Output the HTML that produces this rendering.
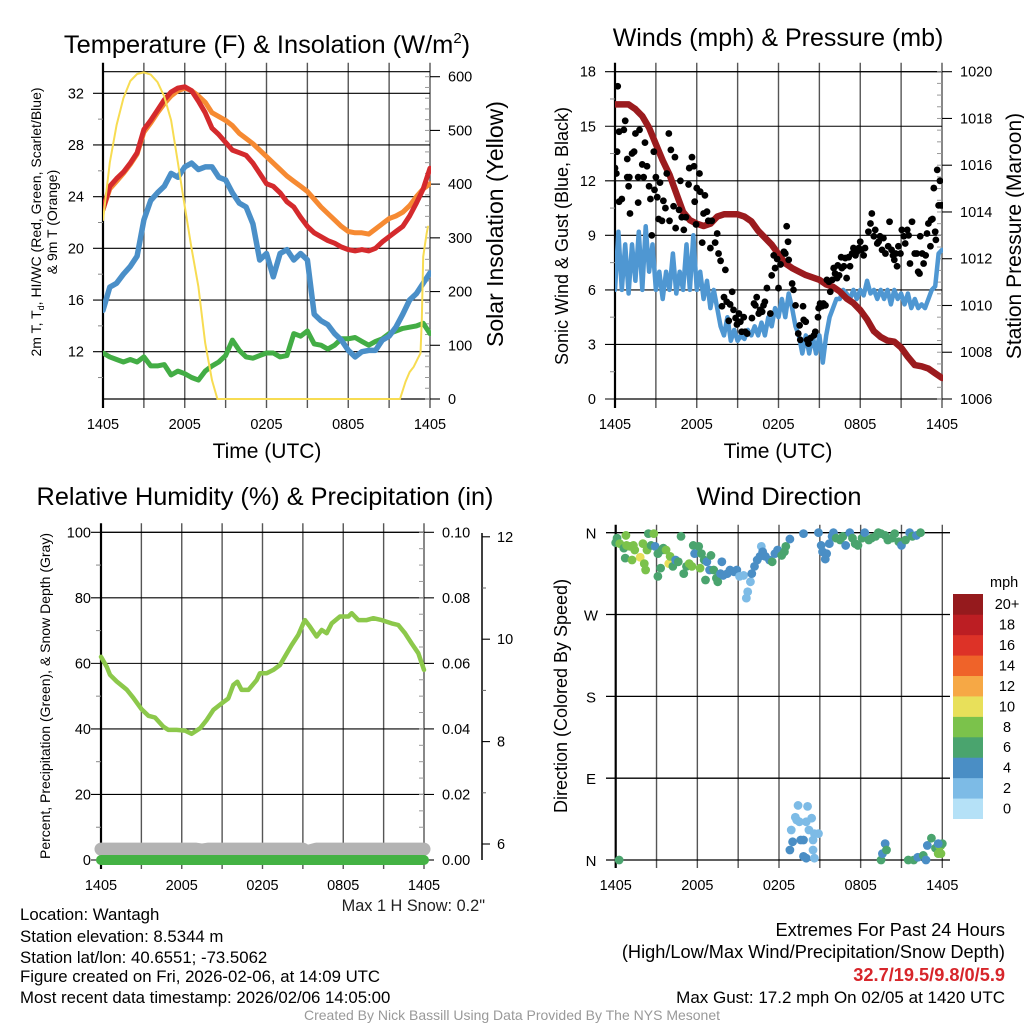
<!DOCTYPE html>
<html><head><meta charset="utf-8"><style>
html,body{margin:0;padding:0;background:#fff;}
svg{display:block;font-family:"Liberation Sans",sans-serif;}
</style></head><body>
<svg id="chart" width="1024" height="1024" viewBox="0 0 1024 1024" xmlns="http://www.w3.org/2000/svg">
<defs>
<clipPath id="c1"><rect x="103" y="60" width="328" height="340"/></clipPath>
<clipPath id="c2"><rect x="615" y="60" width="328" height="340"/></clipPath>
<clipPath id="c3"><rect x="90" y="525" width="345" height="345"/></clipPath>
<clipPath id="c4"><rect x="608" y="525" width="342" height="345"/></clipPath>
</defs>
<text x="267" y="53" font-size="25.4" text-anchor="middle">Temperature (F) &amp; Insolation (W/m<tspan dy="-10" font-size="15">2</tspan><tspan dy="10">)</tspan></text>
<text x="778" y="46" font-size="25" text-anchor="middle">Winds (mph) &amp; Pressure (mb)</text>
<text x="265" y="505" font-size="25.3" text-anchor="middle">Relative Humidity (%) &amp; Precipitation (in)</text>
<text x="779" y="505" font-size="25.4" text-anchor="middle">Wind Direction</text>

<text x="267" y="458" font-size="21" text-anchor="middle">Time (UTC)</text>
<text x="778" y="458" font-size="21" text-anchor="middle">Time (UTC)</text>
<text transform="translate(41,222) rotate(-90)" font-size="14" text-anchor="middle">2m T, T<tspan font-size="9" dy="3">d</tspan><tspan dy="-3">, HI/WC (Red, Green, Scarlet/Blue)</tspan></text>
<text transform="translate(57,222) rotate(-90)" font-size="14" text-anchor="middle">&amp; 9m T (Orange)</text>
<text transform="translate(503,224) rotate(-90)" font-size="23" text-anchor="middle">Solar Insolation (Yellow)</text>
<text transform="translate(568,236) rotate(-90)" font-size="18" text-anchor="middle">Sonic Wind &amp; Gust (Blue, Black)</text>
<text transform="translate(1021,236) rotate(-90)" font-size="21" text-anchor="middle">Station Pressure (Maroon)</text>
<text transform="translate(50,696) rotate(-90)" font-size="14" text-anchor="middle">Percent, Precipitation (Green), &amp; Snow Depth (Gray)</text>
<text transform="translate(567,696) rotate(-90)" font-size="18" text-anchor="middle">Direction (Colored By Speed)</text>

<text x="485" y="911" font-size="16.3" text-anchor="end" fill="#222">Max 1 H Snow: 0.2"</text>
<g font-size="16.8" fill="#000">
<text x="20" y="920">Location: Wantagh</text>
<text x="20" y="942">Station elevation: 8.5344 m</text>
<text x="20" y="963">Station lat/lon: 40.6551; -73.5062</text>
<text x="20" y="982">Figure created on Fri, 2026-02-06, at 14:09 UTC</text>
<text x="20" y="1003">Most recent data timestamp: 2026/02/06 14:05:00</text>
</g>
<g text-anchor="end">
<text x="1005" y="936" font-size="18.2">Extremes For Past 24 Hours</text>
<text x="1005" y="958" font-size="18.2">(High/Low/Max Wind/Precipitation/Snow Depth)</text>
<text x="1005" y="981" font-size="18.2" fill="#d7262b" font-weight="bold">32.7/19.5/9.8/0/5.9</text>
<text x="1005" y="1003" font-size="17">Max Gust: 17.2 mph On 02/05 at 1420 UTC</text>
</g>
<text x="512" y="1020" font-size="14" fill="#999" text-anchor="middle">Created By Nick Bassill Using Data Provided By The NYS Mesonet</text>
</svg>
<script>
// ---------- data ----------
const halfHours=[0,0.5,1,1.5,2,2.5,3,3.5,4,4.5,5,5.5,6,6.5,7,7.5,8,8.5,9,9.5,10,10.5,11,11.5,12,12.5,13,13.5,14,14.5,15,15.5,16,16.5,17,17.5,18,18.5,19,19.5,20,20.5,21,21.5,22,22.5,23,23.5,24];
const tempRed=[23,24.8,25.4,25.9,26.6,27.4,29.2,29.9,30.7,31.5,32.1,32.4,32.5,32.2,31.4,30.5,29.3,28.8,28.2,27.6,27.4,27.2,26.6,25.8,25.0,24.8,24.3,23.6,23.2,22.4,21.7,21.2,20.9,20.6,20.4,20.1,19.9,19.8,19.9,19.8,20.0,20.5,20.9,21.3,21.7,22.5,23.5,24.6,26.2];
const tempOrange=[23,24.6,25.2,25.8,26.5,27.3,29.0,29.7,30.5,31.2,31.8,32.2,32.4,32.2,31.8,31.3,30.5,30.2,29.9,29.5,28.9,28.5,28.1,27.6,27.1,26.6,26.1,25.6,25.2,24.8,24.4,23.8,23.2,22.7,22.2,21.7,21.3,21.2,21.2,21.1,21.5,21.9,22.3,22.5,22.8,23.3,24.0,24.6,25.0];
const dewBlue=[15.2,17,17.3,18,18.6,19.4,22.2,23.7,24.3,24.8,25.8,25.5,26.3,26.6,26.1,26.3,26.3,25.5,25.3,24.3,23.5,23.2,21.9,19.1,19.6,17.8,19.6,19.9,19.1,19.6,19.1,14.9,14.4,14.1,13.4,12.9,12.1,11.6,12,12.1,12.1,12.9,13.2,13.9,14.9,16,16.5,17.3,18.1];
const hiwcGreen=[11.9,11.6,11.4,11.2,11.4,11.2,11.6,10.9,10.9,11,10.2,10.5,10.3,10,9.8,10.5,10.9,11.2,11.7,12.9,12.1,11.6,11.5,11.7,11.9,11.9,11.6,11.7,13.4,13.2,13.6,12.6,12.5,12.2,12.5,13,13,13.1,12.8,12.5,12.8,13,13.4,13.6,13.8,13.9,14,14.2,13.4];
const solarHours=[0,0.5,1,1.5,2,2.5,3,3.5,4,4.5,5,5.5,6,6.5,7,7.5,8,8.4,21.8,22.2,22.5,22.8,23.1,23.3,23.4,23.5,23.75,23.85];
const solarVals=[333,440,510,560,592,605,608,604,590,563,519,440,358,280,209,104,35,0,0,32,50,60,75,85,147,265,308,321];
const pressure=[1018.6,1018.6,1018.6,1018.4,1018.1,1017.6,1016.9,1016.2,1015.6,1014.8,1014.0,1013.65,1013.5,1013.4,1013.5,1013.8,1013.9,1013.9,1013.9,1013.8,1013.6,1013.2,1012.9,1012.6,1012.2,1011.8,1011.6,1011.45,1011.3,1011.2,1011.1,1010.9,1010.8,1010.6,1010.3,1010.1,1009.8,1009.4,1008.9,1008.65,1008.5,1008.45,1008.2,1007.8,1007.45,1007.4,1007.3,1007.1,1006.9];
const windSpeed=[6,9.2,6,8.5,5.8,8.5,6.5,9.2,6,9.5,7,8.5,6,7,5.5,7,6,8,5.8,7,6,8.5,6,9,6,7,5.5,6.5,5,6,5,4,3.5,4.5,3.2,3.8,3.2,3.5,3.3,3.8,3.5,4,3.5,4.2,3.5,4.5,4,5,4.5,5.5,4.5,5.8,5,4,3.5,2.5,3.5,2.5,3.5,2.5,3.5,2,3.5,4.5,5,5.5,5.5,6,5.8,5.5,6,5.5,6,5.7,6.5,5.8,6,5.5,6,5.5,6,5.2,6,5.5,5.8,5.2,5.8,5,5.5,5,5.2,5,5.5,6,6.2,8,8.2];
const gustT=[0.2,0,0.1,0.15,0.3,0.3,0.5,0.65,0.75,0.9,0.9,1,1.05,1.1,1.25,1.4,1.5,1.7,1.7,1.8,2.0,2.1,2.2,2.35,2.5,2.6,2.7,2.85,2.9,3.0,3.1,3.2,3.3,3.45,3.55,3.7,3.8,3.95,4.0,4.1,4.3,4.4,4.45,4.7,4.8,4.9,5.05,5.2,5.4,5.45,5.65,5.8,5.85,5.95,6.0,6.2,6.25,6.4,6.5,6.6,6.75,6.85,7.0,7.1,7.35,7.5,7.6,7.75,7.85,8.0,8.1,8.2,8.35,8.45,8.6,8.7,8.85,8.95,9.1,9.2,9.3,9.45,9.55,9.7,10.05,10.2,10.3,10.4,10.55,10.65,10.8,10.9,11.0,11.15,11.4,11.5,11.65,11.75,11.9,12.0,12.15,12.4,12.5,12.6,12.7,12.75,13.0,13.1,13.25,13.45,13.55,13.6,13.8,13.85,14.0,14.1,14.2,14.35,14.6,14.7,14.9,14.95,15.05,15.2,15.3,15.45,15.55,15.7,15.8,15.95,16.05,16.15,16.3,16.35,16.45,16.6,16.65,16.8,16.9,17.0,17.15,17.25,17.4,17.5,17.65,17.75,17.9,18.0,18.1,18.25,18.35,18.6,18.75,18.85,19.0,19.1,19.25,19.35,19.45,19.6,19.7,19.85,20.05,20.15,20.3,20.4,20.5,20.6,20.7,20.8,20.95,21.05,21.2,21.3,21.45,21.55,21.65,21.8,22.0,22.15,22.25,22.35,22.4,22.55,22.65,22.8,22.9,23.0,23.15,23.2,23.3,23.4,23.5,23.55,23.65,23.75,23.85,23.9,24.0];
const gustV=[17.2,12.7,12.4,13.6,14.7,10.85,11,14.8,15.3,13.2,12.2,11.7,12.2,10.2,13.5,13.6,14.6,10.8,12.2,14.8,12.9,12.2,14.1,12.8,11.7,11,9,13.6,11.5,12.2,11.1,9.9,11.9,9.8,10.9,10.5,12.4,14.6,9.8,13.7,10.6,13.3,9.4,10.4,12.0,10.0,9.3,10.0,11.8,12.7,13.3,12.8,10.85,9.6,11.6,12.4,11.4,8.6,10.2,11.2,10.3,9.8,8.3,9.8,8.6,9.1,8.0,7.6,5.1,5.6,7.1,5.35,4.3,5.2,5.9,4.9,4.45,4.1,4.7,4.25,3.7,4.5,3.7,3.6,4.45,5.25,5.15,5.6,4.7,4.9,4.8,5.15,5.35,6.1,4.7,6.8,7.9,7.2,7.7,6.1,7.4,8.1,8.0,9.5,8.65,7.65,6.35,6.0,5.15,3.6,4.05,3.25,5.1,4.35,4.25,3.25,3.05,3.35,3.5,3.7,4.5,5.0,5.25,5.1,5.25,5.15,6.55,6.45,5.9,6.55,7.2,6.9,6.65,7.35,6.8,7.8,7.2,7.3,7.75,6.65,7.8,7.3,8.0,8.3,7.9,8.1,8.3,8.65,8.2,7.9,8.3,9.2,9.65,10.2,8.95,9.3,8.55,8.65,8.95,8.2,8.85,8.0,8.4,9.75,8.2,7.9,7.65,8.0,7.3,8.4,8.0,9.3,8.95,8.55,9.3,9.0,7.45,9.75,8.0,8.0,7.0,6.9,8.95,8.0,7.45,7.9,9.1,9.65,8.4,9.85,9.9,11.6,9.2,8.75,12.6,10.65,12.0,10.65,10.65];
const rhHours=[0,0.42,0.67,1.16,1.91,2.4,3.02,3.52,4.01,4.63,5.0,5.62,6.24,6.74,7.36,7.85,8.35,8.97,9.46,9.83,10.13,10.45,10.95,11.57,11.81,12.31,12.8,13.3,13.8,14.17,14.66,15.03,15.16,15.53,16.02,16.4,16.77,17.14,17.76,18.38,18.63,19.12,19.74,20.24,20.85,21.6,22.09,22.59,23.08,23.58,24];
const rhVals=[62,59,56.5,54.5,52,49.5,46,44,43.5,40.7,39.7,39.7,39.5,38.5,40.2,42.7,45.8,47.8,49.3,53.4,54.4,51.9,51.9,54.9,57,57,58,59.5,63,65.6,68.7,72.2,73.2,71.2,68.2,70.2,69.2,72.2,74.3,74.3,75.3,73.2,73.2,73.8,73.2,72.2,71.7,69.2,66.1,63.1,58];
const precipHours=[0,24];
const precipVals=[0,0];
const snowHours=[0,7,7.5,8,15,15.3,16,24];
const snowVals=[5.9,5.9,5.88,5.9,5.9,5.85,5.9,5.9];
const dirT=[0,0.1,0.3,0.6,0.8,0.75,1.05,1.3,1.4,0.7,1.8,1.2,2.0,2.3,2.2,2.1,2.4,2.8,2.6,2.9,3.1,3.1,3.3,3.4,3.5,3.7,3.9,4.0,4.2,4.4,4.6,4.8,5.0,5.2,5.4,5.6,5.7,5.8,6.1,6.2,6.3,6.5,6.6,6.7,6.9,7.0,7.2,7.4,7.5,7.7,7.8,7.9,8.2,8.4,8.7,8.9,9.1,9.4,9.7,9.6,9.9,10.0,10.2,10.4,10.6,10.7,10.8,11.0,11.3,11.5,11.7,11.9,12.2,12.4,12.5,12.8,13.8,14.9,15.1,15.2,15.4,15.5,15.7,15.9,16.0,16.2,16.5,16.7,16.9,17.2,17.4,17.6,17.8,18.1,18.3,18.6,18.8,19.1,19.3,19.5,19.8,20.0,20.3,20.5,20.8,21.0,21.3,21.6,21.8,22.1,22.4,0.25,12.9,13.2,13.3,13.4,13.5,13.8,13.6,12.8,13.0,14.0,14.1,14.2,14.4,14.5,14.5,14.6,14.9,13.8,14.0,14.6,19.5,19.6,19.8,19.9,21.5,21.9,22.2,22.6,22.8,22.9,23.2,23.5,23.7,23.8,23.9,24.0,23.9,23.7];
const dirDeg=[349,354,348,343,346,357,345,346,341,332,333,330,348,341,319,326,359,359,346,345,337,312,321,341,343,341,326,334,323,330,328,356,315,323,326,323,346,337,345,321,337,330,308,328,319,335,319,310,306,315,328,313,315,319,317,319,312,313,295,288,306,315,323,330,334,345,339,334,330,328,337,341,335,339,345,353,359,360,346,339,331,337,348,356,360,354,352,356,346,360,354,348,346,354,360,352,354,356,360,359,357,352,354,359,350,346,352,360,356,357,360,0,33,47,44,60,42,22,22,11,20,42,59,33,46,22,11,29,29,4,2,2,0,7,18,11,0,0,3,5,0,16,24,13,7,15,16,18,7,18];
const dirSpd=[6,6,8,6,8,8,8,8,8,6,10,8,8,8,8,8,6,8,6,4,6,6,6,6,6,8,10,8,6,4,6,6,6,6,8,8,6,4,6,8,6,6,6,4,4,6,6,6,6,4,4,4,4,4,4,4,2,2,2,2,2,4,4,4,4,2,4,4,4,6,4,4,6,6,6,4,4,4,4,4,4,4,4,4,4,6,6,6,4,4,6,6,6,6,4,6,6,6,6,6,6,6,6,6,6,4,6,4,6,4,6,6,2,2,2,2,2,4,4,4,4,2,2,2,2,2,2,2,2,4,4,2,6,4,4,6,6,6,4,6,4,4,6,6,8,8,8,6,8,4];
const xTickLabels=['1405','2005','0205','0805','1405'];
const xTickHours=[0,6,12,18,24];
const tempTicks=[12,16,20,24,28,32];
const solarTicks=[0,100,200,300,400,500,600];
const windTicks=[0,3,6,9,12,15,18];
const presTicks=[1006,1008,1010,1012,1014,1016,1018,1020];
const rhTicks=[0,20,40,60,80,100];
const precipTicks=['0.00','0.02','0.04','0.06','0.08','0.10'];
const snowTicks=[6,8,10,12];
const dirLabels=['N','E','S','W','N'];
const dirTicks=[0,90,180,270,360];
const cbLabels=['0','2','4','6','8','10','12','14','16','18','20+'];
const cbColors=['#b5e1f7','#7dbbe6','#4a8ec5','#4aa46e','#7bc24b','#e8e05a','#f6a845','#ef6329','#dd3227','#bc1e23','#951a1d'];

// ---------- helpers ----------
const NS='http://www.w3.org/2000/svg';
const svg=document.getElementById('chart');
function mk(tag,attrs,parent){const e=document.createElementNS(NS,tag);for(const k in attrs)e.setAttribute(k,attrs[k]);(parent||svg).appendChild(e);return e;}
function path(xs,ys,fx,fy){let d='';for(let i=0;i<xs.length;i++){d+=(i?'L':'M')+fx(xs[i]).toFixed(1)+','+fy(ys[i]).toFixed(1);}return d;}

const P1={x0:103,x1:430,top:71.7,bot:399};
const P2={x0:615,x1:942,top:71.7,bot:399};
const P3={x0:101,x1:424,top:532.3,bot:860};
const P4={x0:615.7,x1:942.3,top:532.7,bot:860};
function xs(P){return h=>P.x0+h*(P.x1-P.x0)/24;}
const x1s=xs(P1),x2s=xs(P2),x3s=xs(P3),x4s=xs(P4);
const tempY=v=>93.3+(32-v)*(258.4/20);
const solarY=v=>399-v*(322.3/600);
const windY=v=>399-v*(327.3/18);
const presY=v=>399-(v-1006)*(327.3/14);
const rhY=v=>860-v*(327.7/100);
const precipY=v=>860-v*(327.7/0.1);
const snowY=v=>844-(v-6)*51.2;
const dirY=d=>860-d*(327.3/360);

function frame(P,xsc,name){
  const g=mk('g',{});
  
  
  for(let i=0;i<=8;i++){
    const x=P.x0+i*(P.x1-P.x0)/8;
    const l=mk('line',{x1:x,x2:x,y1:P.top-9,y2:P.bot+9,stroke:i==0?'#000':'#555','stroke-width':i==0?2.2:1.4},g);
    
    
  }
  [P.top,P.bot].forEach(y=>{
    const l=mk('line',{x1:P.x0,x2:P.x1,y1:y,y2:y,stroke:'#000','stroke-width':1.2},g);
    
    
  });
  for(let i=0;i<xTickHours.length;i++){
    const t=mk('text',{x:xsc(xTickHours[i]),y:P.bot+30,'font-size':14.5,'text-anchor':'middle'},g);
    
    
    t.textContent=xTickLabels[i];
  }
  return g;
}
function leftAxis(P,ticks,fy,labels,lx,minorStep,name){
  const g=mk('g',{});
  
  
  ticks.forEach((v,i)=>{
    const y=fy(v);
    const l=mk('line',{x1:P.x0-10,x2:P.x1,y1:y,y2:y,stroke:'#000','stroke-width':1.1},g);
    
    
    const t=mk('text',{x:lx,y:y+5,'font-size':14.5,'text-anchor':'end'},g);
    
    
    t.textContent=labels?labels[i]:v;
  });
  for(let v=ticks[0]-minorStep;v<ticks[ticks.length-1]+minorStep;v+=minorStep*2){
    const y=fy(v); if(y<P.top||y>P.bot) continue;
    const l=mk('line',{x1:P.x0-5,x2:P.x0,y1:y,y2:y,stroke:'#888','stroke-width':1},g);
    
    
  }
}
function rightAxis(x,ticks,fy,labels,minor,top,bot,name,tickLen){
  const g=mk('g',{});
  
  
  ticks.forEach((v,i)=>{
    const y=fy(v);
    const l=mk('line',{x1:x,x2:x+(tickLen||10),y1:y,y2:y,stroke:'#000','stroke-width':1.1},g);
    
    
    const t=mk('text',{x:x+(tickLen||10)+8,y:y+5,'font-size':14.5},g);
    
    
    t.textContent=labels?labels[i]:v;
  });
  minor.forEach(v=>{
    const y=fy(v); if(y<top-1||y>bot+1) return;
    const l=mk('line',{x1:x-5,x2:x,y1:y,y2:y,stroke:'#999','stroke-width':1},g);
    
    
  });
}
function series(xsArr,ysArr,fx,fy,color,w,clip,name){
  const p=mk('path',{d:path(xsArr,ysArr,fx,fy),fill:'none',stroke:color,'stroke-width':w,'stroke-linejoin':'round','stroke-linecap':'round','clip-path':'url(#'+clip+')'});
  
  
  return p;
}
function range(a,b,s){const r=[];for(let v=a;v<=b+1e-9;v+=s)r.push(+v.toFixed(4));return r;}

// ---------- Plot 1 ----------
frame(P1,x1s,'temp');
leftAxis(P1,tempTicks,tempY,null,84,2,'temp-left-axis');
rightAxis(P1.x1,solarTicks,solarY,null,range(0,600,20),P1.top,P1.bot,'insolation-right-axis');
series(halfHours,hiwcGreen,x1s,tempY,'#43ad45',5,'c1','hiwc-green-line');
series(halfHours,dewBlue,x1s,tempY,'#4a8fc8',5.5,'c1','dewpoint-blue-line');
series(halfHours,tempOrange,x1s,tempY,'#f68a32',5,'c1','temp-9m-orange-line');
series(halfHours,tempRed,x1s,tempY,'#d42a2d',5,'c1','temp-2m-red-line');
series(solarHours,solarVals,x1s,solarY,'#f7dc52',2,'c1','insolation-yellow-line');

// ---------- Plot 2 ----------
frame(P2,x2s,'wind');
leftAxis(P2,windTicks,windY,null,596,1.5,'wind-left-axis');
rightAxis(P2.x1,presTicks,presY,null,range(1006,1020,0.5),P2.top,P2.bot,'pressure-right-axis');
const windHours=windSpeed.map((v,i)=>i*0.25);
series(windHours,windSpeed,x2s,windY,'#4f97d2',4.5,'c2','sonic-wind-blue-line');
series(halfHours,pressure,x2s,presY,'#9b1b1e',6.5,'c2','pressure-maroon-line');
for(let i=0;i<gustT.length;i++){
  const c=mk('circle',{cx:x2s(gustT[i]),cy:windY(gustV[i]),r:3.4,fill:'#000','clip-path':'url(#c2)'});
  
  
}

// ---------- Plot 3 ----------
frame(P3,x3s,'humidity');
leftAxis(P3,rhTicks,rhY,null,91,10,'humidity-left-axis');
rightAxis(P3.x1,precipTicks.map(Number),precipY,precipTicks,range(0,0.1,0.005),P3.top,P3.bot,'precip-right-axis');
(function(){
  const ax=mk('line',{x1:482,x2:482,y1:533,y2:860,stroke:'#000','stroke-width':1.5});
  
  
  snowTicks.forEach(v=>{
    const y=snowY(v);
    const l=mk('line',{x1:482,x2:490,y1:y,y2:y,stroke:'#000','stroke-width':1.1});
    
    
    const t=mk('text',{x:497,y:y+5,'font-size':14.5});
    
    
    t.textContent=v;
  });
  [7,9,11].forEach(v=>{
    const y=snowY(v);
    const l=mk('line',{x1:482,x2:486,y1:y,y2:y,stroke:'#666','stroke-width':1});
    
    
  });
})();
series(snowHours,snowVals,x3s,snowY,'#b3b3b3',13,'c3','snow-depth-gray-line');
series(precipHours,precipVals,x3s,precipY,'#44b244',10,'c3','precip-green-line');
series(rhHours,rhVals,x3s,rhY,'#8cc84b',4.5,'c3','humidity-line');

// ---------- Plot 4 ----------
(function(){
  const g=mk('g',{});
  
  
  for(let i=0;i<=8;i++){
    const x=P4.x0+i*(P4.x1-P4.x0)/8;
    const l=mk('line',{x1:x,x2:x,y1:P4.top-8,y2:P4.bot+8,stroke:i==0?'#000':'#555','stroke-width':i==0?2.2:1.4},g);
    
    
  }
  dirTicks.forEach((d,i)=>{
    const y=dirY(d);
    const l=mk('line',{x1:606,x2:950,y1:y,y2:y,stroke:'#000','stroke-width':1.3},g);
    
    
    const t=mk('text',{x:591,y:y+6,'font-size':15,'text-anchor':'middle'},g);
    
    
    t.textContent=dirLabels[i];
  });
  for(let i=0;i<xTickHours.length;i++){
    const t=mk('text',{x:x4s(xTickHours[i]),y:890,'font-size':14.5,'text-anchor':'middle'},g);
    
    
    t.textContent=xTickLabels[i];
  }
})();
function spdColor(s){let b=Math.floor(s/2);if(b>10)b=10;if(b<0)b=0;return cbColors[b];}
for(let i=0;i<dirT.length;i++){
  const c=mk('circle',{cx:x4s(dirT[i]),cy:dirY(dirDeg[i]),r:4.4,fill:spdColor(dirSpd[i]),'clip-path':'url(#c4)'});
  
  
}
(function(){
  const g=mk('g',{});
  
  
  const top=594,bot=818.7,h=(bot-top)/cbColors.length;
  const u=mk('text',{x:990,y:587,'font-size':14.5},g);
  
  
  u.textContent='mph';
  for(let i=0;i<cbColors.length;i++){
    const y=bot-(i+1)*h;
    const r=mk('rect',{x:953,y:y,width:30,height:h+0.3,fill:cbColors[i]},g);
    
    
    const t=mk('text',{x:1007,y:y+h/2+5,'font-size':14.5,'text-anchor':'middle'},g);
    
    
    t.textContent=cbLabels[i];
  }
})();
</script>
</body></html>
